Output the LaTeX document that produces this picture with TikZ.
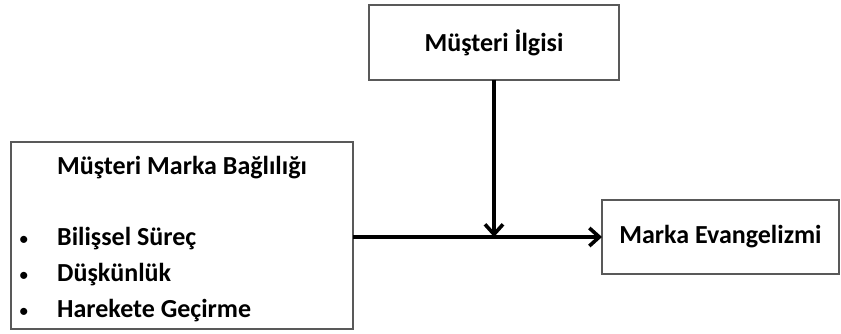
\documentclass[tikz,border=0pt]{standalone}
\usepackage{fontspec}
\setmainfont{Carlito}
\usetikzlibrary{arrows.meta,positioning}

\begin{document}
\begin{tikzpicture}[x=1pt, y=-1pt, font=\fontsize{26}{30}\selectfont\bfseries]
    \tikzstyle{box}=[draw=black!65, line width=1.5pt, outer sep=0pt, inner sep=0pt]
    \tikzstyle{arr}=[line width=3.6pt, -{Straight Barb[length=10pt, width=18pt]}]
    \tikzstyle{item}=[anchor=base west, inner sep=0pt]
    \useasboundingbox (0,0) rectangle (841,334);
    % kutular
    \node[box, minimum width=250pt, minimum height=75pt] (ilgi) at (494,42.5) {M\"u\c{s}teri \.Ilgisi};
    \node[box, minimum width=342pt, minimum height=187pt] (baglilik) at (182,235.5) {};
    \node[box, minimum width=237pt, minimum height=74pt] (evangelizm) at (720.5,237) {Marka Evangelizmi};
    % sol kutunun metinleri
    \node[item] (baslik) at (57,175) {M\"u\c{s}teri Marka Ba\u{g}l\i{}l\i\u{g}\i};
    \node[item] (madde1) at (57,245) {Bili\c{s}sel S\"ure\c{c}};
    \node[item] (madde2) at (57,281) {D\"u\c{s}k\"unl\"uk};
    \node[item] (madde3) at (57,317) {Harekete Ge\c{c}irme};
    \foreach \m in {madde1,madde2,madde3}
      \node[anchor=base east, inner sep=0pt, font=\fontsize{20}{24}\selectfont] at ([xshift=-28pt]\m.base west) {\textbullet};
    % oklar
    \coordinate (kesisim) at (ilgi.south |- evangelizm.west);
    \draw[arr] (baglilik.east |- evangelizm.west) -- (evangelizm.west);
    \draw[arr] (ilgi.south) -- (kesisim);
\end{tikzpicture}
\end{document}
